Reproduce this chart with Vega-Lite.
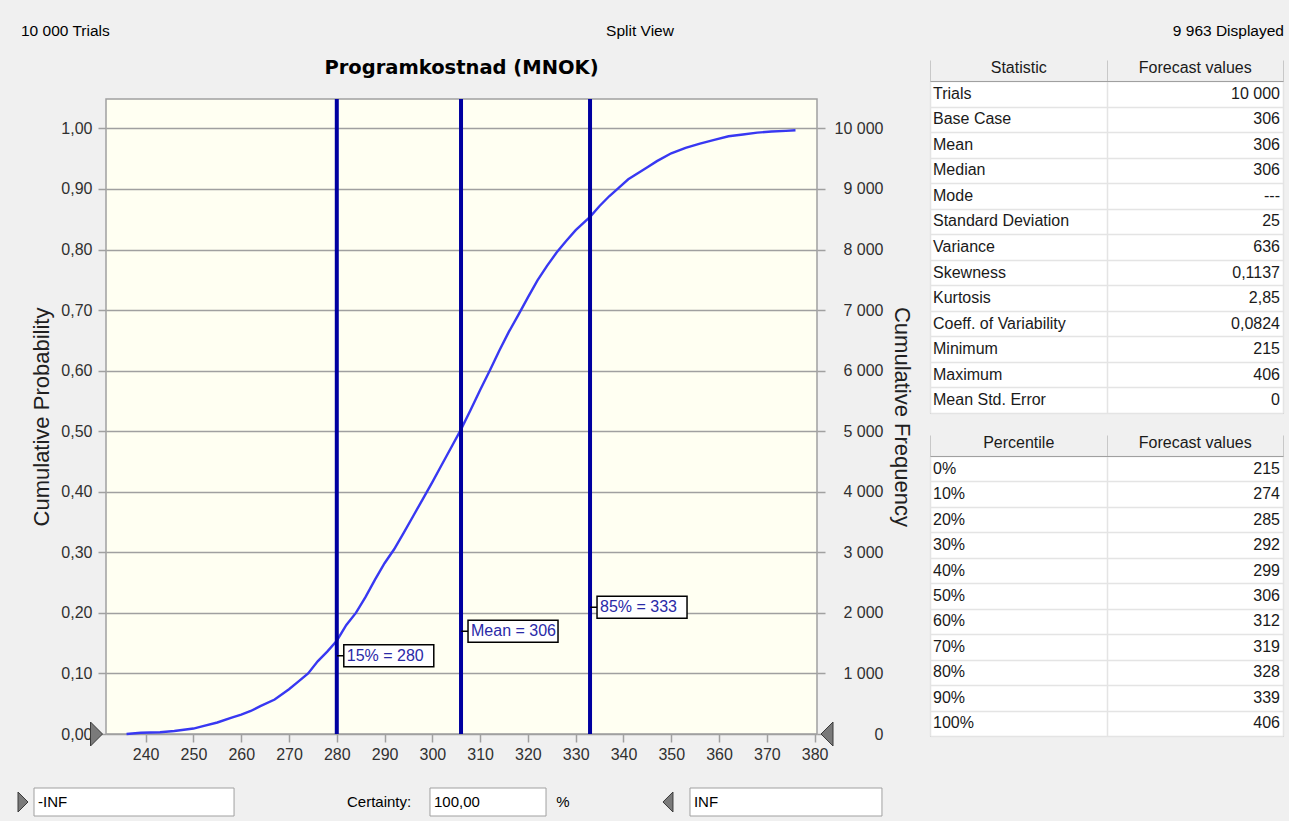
{
  "$schema": "https://vega.github.io/schema/vega-lite/v6.json",
  "background": "#f0f0f0",
  "padding": {"left": 16, "top": 20, "right": 5, "bottom": 5},
  "config": {
    "locale": {"number": {"decimal": ",", "thousands": " ", "grouping": [3], "currency": ["", ""]}},
    "font": "Liberation Sans",
    "view": {"stroke": null}
  },
  "spacing": 24,
  "vconcat": [
    {
      "spacing": 15,
      "vconcat": [
        {
          "width": 1176,
          "height": 22,
          "data": {"values": [
            {"part": "left", "label": "10 000 Trials"},
            {"part": "center", "label": "Split View"},
            {"part": "right", "label": "9 963 Displayed"}
          ]},
          "layer": [
            {
              "transform": [{"filter": "datum.part === 'left'"}],
              "mark": {"type": "text", "align": "left", "dx": -85, "fontSize": 15.5, "color": "#000000"},
              "encoding": {
                "x": {"field": "part", "type": "nominal", "bandPosition": 0, "scale": {"type": "band", "domain": ["left", "center", "right"], "paddingInner": 0, "paddingOuter": 0}, "axis": null},
                "text": {"field": "label"}
              }
            },
            {
              "transform": [{"filter": "datum.part === 'center'"}],
              "mark": {"type": "text", "align": "center", "dx": -54, "fontSize": 15.5, "color": "#000000"},
              "encoding": {
                "x": {"field": "part", "type": "nominal", "bandPosition": 0.5},
                "text": {"field": "label"}
              }
            },
            {
              "transform": [{"filter": "datum.part === 'right'"}],
              "mark": {"type": "text", "align": "right", "dx": 2, "fontSize": 15.5, "color": "#000000"},
              "encoding": {
                "x": {"field": "part", "type": "nominal", "bandPosition": 1},
                "text": {"field": "label"}
              }
            }
          ]
        },
        {
          "spacing": 16,
          "hconcat": [
            {
              "spacing": 0,
              "vconcat": [
                {
                  "width": 711,
                  "height": 15,
                  "title": {"text": "Programkostnad (MNOK)", "font": "DejaVu Sans", "fontSize": 19.5, "fontWeight": "bold", "color": "#000000", "offset": 3, "anchor": "middle"},
                  "data": {"values": [{"caption": ""}]},
                  "mark": {"type": "text"},
                  "encoding": {"text": {"field": "caption"}}
                },
                {
                  "width": 711,
                  "height": 635,
                  "view": {"fill": "#fffff2", "stroke": "#a0a0a0", "strokeWidth": 1.5},
                  "layer": [
                    {
                      "layer": [
                        {
                          "data": {"values": [
                            {"cost": 236, "prob": 0.0},
                            {"cost": 239, "prob": 0.002},
                            {"cost": 243, "prob": 0.003},
                            {"cost": 246, "prob": 0.005},
                            {"cost": 250, "prob": 0.009},
                            {"cost": 252, "prob": 0.013},
                            {"cost": 255, "prob": 0.019},
                            {"cost": 258, "prob": 0.027},
                            {"cost": 260, "prob": 0.032},
                            {"cost": 262, "prob": 0.038},
                            {"cost": 264, "prob": 0.046},
                            {"cost": 267, "prob": 0.057},
                            {"cost": 270, "prob": 0.074},
                            {"cost": 272, "prob": 0.087},
                            {"cost": 274, "prob": 0.1},
                            {"cost": 276, "prob": 0.12},
                            {"cost": 278, "prob": 0.136},
                            {"cost": 280, "prob": 0.154},
                            {"cost": 282, "prob": 0.18},
                            {"cost": 284, "prob": 0.2},
                            {"cost": 286, "prob": 0.226},
                            {"cost": 288, "prob": 0.255},
                            {"cost": 290, "prob": 0.282},
                            {"cost": 292, "prob": 0.305},
                            {"cost": 294, "prob": 0.332},
                            {"cost": 296, "prob": 0.36},
                            {"cost": 298, "prob": 0.388},
                            {"cost": 300, "prob": 0.416},
                            {"cost": 302, "prob": 0.445},
                            {"cost": 304, "prob": 0.474},
                            {"cost": 306, "prob": 0.503},
                            {"cost": 308, "prob": 0.535},
                            {"cost": 310, "prob": 0.568},
                            {"cost": 312, "prob": 0.6},
                            {"cost": 314, "prob": 0.633},
                            {"cost": 316, "prob": 0.664},
                            {"cost": 318, "prob": 0.692},
                            {"cost": 320, "prob": 0.721},
                            {"cost": 322, "prob": 0.749},
                            {"cost": 324, "prob": 0.773},
                            {"cost": 326, "prob": 0.795},
                            {"cost": 328, "prob": 0.814},
                            {"cost": 330, "prob": 0.832},
                            {"cost": 333, "prob": 0.854},
                            {"cost": 335, "prob": 0.872},
                            {"cost": 337, "prob": 0.888},
                            {"cost": 339, "prob": 0.902},
                            {"cost": 341, "prob": 0.916},
                            {"cost": 343, "prob": 0.926},
                            {"cost": 345, "prob": 0.936},
                            {"cost": 347, "prob": 0.946},
                            {"cost": 350, "prob": 0.959},
                            {"cost": 353, "prob": 0.968},
                            {"cost": 356, "prob": 0.975},
                            {"cost": 359, "prob": 0.981},
                            {"cost": 362, "prob": 0.987},
                            {"cost": 365, "prob": 0.99},
                            {"cost": 368, "prob": 0.993},
                            {"cost": 371, "prob": 0.995},
                            {"cost": 374, "prob": 0.996},
                            {"cost": 376, "prob": 0.997}
                          ]},
                          "mark": {"type": "line", "color": "#3838f2", "strokeWidth": 2.4},
                          "encoding": {
                            "x": {
                              "field": "cost", "type": "quantitative",
                              "scale": {"domain": [231.7, 380.5], "nice": false, "zero": false},
                              "axis": {"values": [240, 250, 260, 270, 280, 290, 300, 310, 320, 330, 340, 350, 360, 370, 380], "grid": false, "domain": false, "ticks": true, "tickSize": 8, "tickColor": "#a0a0a0", "tickWidth": 1.5, "labelFontSize": 16, "labelColor": "#303030", "labelPadding": 4, "labelFlush": false, "labelOverlap": false, "title": null}
                            },
                            "y": {
                              "field": "prob", "type": "quantitative",
                              "scale": {"domain": [0, 1.0486], "nice": false, "zero": false},
                              "axis": {"values": [0, 0.1, 0.2, 0.3, 0.4, 0.5, 0.6, 0.7, 0.8, 0.9, 1.0], "format": ".2f", "grid": true, "gridColor": "#a0a0a0", "gridWidth": 1.5, "domain": false, "tickSize": 8, "tickColor": "#a0a0a0", "tickWidth": 1.5, "labelFontSize": 16, "labelColor": "#303030", "labelPadding": 6, "labelFlush": false, "labelOverlap": false, "title": "Cumulative Probability", "titleFontSize": 22, "titleFontWeight": "normal", "titleColor": "#202020", "titlePadding": 7}
                            }
                          }
                        },
                        {
                          "data": {"values": [
                            {"cost": 280, "prob": 0.1293, "label": "15% = 280"},
                            {"cost": 306, "prob": 0.1698, "label": "Mean = 306"},
                            {"cost": 333, "prob": 0.2094, "label": "85% = 333"}
                          ]},
                          "layer": [
                            {
                              "mark": {"type": "rule", "color": "#0000a0", "strokeWidth": 4},
                              "encoding": {"x": {"field": "cost", "type": "quantitative"}}
                            },
                            {
                              "mark": {"type": "point", "shape": "M0,-0.2444L2,-0.2444L2,0.2444L0,0.2444ZM-0.15,0L0,0", "size": 8100, "filled": true, "fill": "#ffffff", "stroke": "#000000", "strokeWidth": 1.5, "opacity": 1, "xOffset": 7},
                              "encoding": {
                                "x": {"field": "cost", "type": "quantitative"},
                                "y": {"field": "prob", "type": "quantitative"}
                              }
                            },
                            {
                              "mark": {"type": "text", "align": "left", "baseline": "middle", "dx": 10, "fontSize": 16, "color": "#2a2aa8"},
                              "encoding": {
                                "x": {"field": "cost", "type": "quantitative"},
                                "y": {"field": "prob", "type": "quantitative"},
                                "text": {"field": "label"}
                              }
                            }
                          ]
                        },
                        {
                          "data": {"values": [{"side": "lower"}]},
                          "mark": {"type": "point", "shape": "M-0.5,-1L0.5,0L-0.5,1Z", "size": 576, "filled": true, "fill": "#7a7a7a", "stroke": "#3a3a3a", "strokeWidth": 1, "opacity": 1, "xOffset": -9.5},
                          "encoding": {
                            "x": {"datum": 231.7, "type": "quantitative"},
                            "y": {"datum": 0, "type": "quantitative"}
                          }
                        },
                        {
                          "data": {"values": [{"side": "upper"}]},
                          "mark": {"type": "point", "shape": "M0.5,-1L-0.5,0L0.5,1Z", "size": 576, "filled": true, "fill": "#7a7a7a", "stroke": "#3a3a3a", "strokeWidth": 1, "opacity": 1, "xOffset": 10},
                          "encoding": {
                            "x": {"datum": 380.5, "type": "quantitative"},
                            "y": {"datum": 0, "type": "quantitative"}
                          }
                        }
                      ]
                    },
                    {
                      "data": {"values": [{"side": "frequency"}]},
                      "mark": {"type": "rule", "opacity": 0},
                      "encoding": {
                        "y": {
                          "datum": 0, "type": "quantitative",
                          "scale": {"domain": [0, 10486], "nice": false, "zero": false},
                          "axis": {"orient": "right", "values": [0, 1000, 2000, 3000, 4000, 5000, 6000, 7000, 8000, 9000, 10000], "format": ",.0f", "grid": false, "domain": false, "tickSize": 8, "tickColor": "#a0a0a0", "tickWidth": 1.5, "labelFontSize": 16, "labelColor": "#303030", "labelAlign": "right", "labelPadding": 58, "labelFlush": false, "labelOverlap": false, "title": "Cumulative Frequency", "titleFontSize": 22, "titleFontWeight": "normal", "titleColor": "#202020", "titleAngle": 90, "titlePadding": 6}
                        }
                      }
                    }
                  ],
                  "resolve": {"scale": {"y": "independent"}}
                }
              ]
            },
            {
              "spacing": 19,
              "vconcat": [
                {
                  "width": 353,
                  "height": 332,
                  "view": {"fill": "#ffffff", "stroke": "#a0a0a0"},
                  "data": {"values": [
                    {"name": "Trials", "value": "10 000"},
                    {"name": "Base Case", "value": "306"},
                    {"name": "Mean", "value": "306"},
                    {"name": "Median", "value": "306"},
                    {"name": "Mode", "value": "---"},
                    {"name": "Standard Deviation", "value": "25"},
                    {"name": "Variance", "value": "636"},
                    {"name": "Skewness", "value": "0,1137"},
                    {"name": "Kurtosis", "value": "2,85"},
                    {"name": "Coeff. of Variability", "value": "0,0824"},
                    {"name": "Minimum", "value": "215"},
                    {"name": "Maximum", "value": "406"},
                    {"name": "Mean Std. Error", "value": "0"}
                  ]},
                  "encoding": {
                    "y": {"field": "name", "type": "nominal", "sort": null, "scale": {"type": "band", "paddingInner": 0, "paddingOuter": 0}, "axis": {"labels": false, "ticks": false, "domain": false, "grid": true, "tickBand": "extent", "gridColor": "#e4e4e4", "gridWidth": 1.5, "title": null}}
                  },
                  "layer": [
                    {
                      "mark": {"type": "text", "align": "left", "dx": 3, "fontSize": 16, "color": "#1a1a1a"},
                      "encoding": {
                        "x": {"datum": "Statistic", "type": "nominal", "bandPosition": 0, "scale": {"type": "band", "domain": ["Statistic", "Forecast values"], "paddingInner": 0, "paddingOuter": 0}, "axis": {"orient": "top", "title": null, "domain": true, "domainColor": "#a0a0a0", "ticks": true, "tickBand": "extent", "tickSize": 21, "tickColor": "#c8c8c8", "labelFontSize": 16, "labelColor": "#1a1a1a", "labelPadding": -15, "labelAngle": 0, "grid": true, "gridColor": "#e4e4e4", "gridWidth": 1.5}},
                        "text": {"field": "name"}
                      }
                    },
                    {
                      "mark": {"type": "text", "align": "right", "dx": -3, "fontSize": 16, "color": "#1a1a1a"},
                      "encoding": {
                        "x": {"datum": "Forecast values", "type": "nominal", "bandPosition": 1},
                        "text": {"field": "value"}
                      }
                    }
                  ]
                },
                {
                  "width": 353,
                  "height": 280,
                  "view": {"fill": "#ffffff", "stroke": "#a0a0a0"},
                  "data": {"values": [
                    {"name": "0%", "value": "215"},
                    {"name": "10%", "value": "274"},
                    {"name": "20%", "value": "285"},
                    {"name": "30%", "value": "292"},
                    {"name": "40%", "value": "299"},
                    {"name": "50%", "value": "306"},
                    {"name": "60%", "value": "312"},
                    {"name": "70%", "value": "319"},
                    {"name": "80%", "value": "328"},
                    {"name": "90%", "value": "339"},
                    {"name": "100%", "value": "406"}
                  ]},
                  "encoding": {
                    "y": {"field": "name", "type": "nominal", "sort": null, "scale": {"type": "band", "paddingInner": 0, "paddingOuter": 0}, "axis": {"labels": false, "ticks": false, "domain": false, "grid": true, "tickBand": "extent", "gridColor": "#e4e4e4", "gridWidth": 1.5, "title": null}}
                  },
                  "layer": [
                    {
                      "mark": {"type": "text", "align": "left", "dx": 3, "fontSize": 16, "color": "#1a1a1a"},
                      "encoding": {
                        "x": {"datum": "Percentile", "type": "nominal", "bandPosition": 0, "scale": {"type": "band", "domain": ["Percentile", "Forecast values"], "paddingInner": 0, "paddingOuter": 0}, "axis": {"orient": "top", "title": null, "domain": true, "domainColor": "#a0a0a0", "ticks": true, "tickBand": "extent", "tickSize": 21, "tickColor": "#c8c8c8", "labelFontSize": 16, "labelColor": "#1a1a1a", "labelPadding": -15, "labelAngle": 0, "grid": true, "gridColor": "#e4e4e4", "gridWidth": 1.5}},
                        "text": {"field": "name"}
                      }
                    },
                    {
                      "mark": {"type": "text", "align": "right", "dx": -3, "fontSize": 16, "color": "#1a1a1a"},
                      "encoding": {
                        "x": {"datum": "Forecast values", "type": "nominal", "bandPosition": 1},
                        "text": {"field": "value"}
                      }
                    }
                  ]
                }
              ]
            }
          ]
        }
      ]
    },
    {
      "width": 777,
      "height": 28,
      "layer": [
        {
          "data": {"values": [{"slot": "lower"}]},
          "mark": {"type": "rect", "fill": "#ffffff", "stroke": "#a0a0a0", "width": {"band": 0.993}, "xOffset": -72.7},
          "encoding": {"x": {"field": "slot", "type": "nominal", "scale": {"type": "band", "domain": ["lower", "certainty", "upper"], "paddingInner": 0.3, "paddingOuter": 0}, "axis": null}}
        },
        {
          "data": {"values": [{"slot": "certainty"}]},
          "mark": {"type": "rect", "fill": "#ffffff", "stroke": "#a0a0a0", "width": {"band": 0.576}, "xOffset": -6.5},
          "encoding": {"x": {"field": "slot", "type": "nominal"}}
        },
        {
          "data": {"values": [{"slot": "upper"}]},
          "mark": {"type": "rect", "fill": "#ffffff", "stroke": "#a0a0a0", "width": {"band": 0.953}, "xOffset": 3.7},
          "encoding": {"x": {"field": "slot", "type": "nominal"}}
        },
        {
          "data": {"values": [{"slot": "lower", "text": "-INF"}]},
          "mark": {"type": "text", "align": "left", "dx": -68, "fontSize": 15, "color": "#000000"},
          "encoding": {"x": {"field": "slot", "type": "nominal", "bandPosition": 0}, "text": {"field": "text"}}
        },
        {
          "data": {"values": [{"slot": "upper", "text": "INF"}]},
          "mark": {"type": "text", "align": "left", "dx": 12.4, "fontSize": 15, "color": "#000000"},
          "encoding": {"x": {"field": "slot", "type": "nominal", "bandPosition": 0}, "text": {"field": "text"}}
        },
        {
          "data": {"values": [{"slot": "certainty", "text": "Certainty:"}]},
          "mark": {"type": "text", "align": "left", "dx": -46.8, "fontSize": 15, "color": "#000000"},
          "encoding": {"x": {"field": "slot", "type": "nominal", "bandPosition": 0}, "text": {"field": "text"}}
        },
        {
          "data": {"values": [{"slot": "certainty", "text": "100,00"}]},
          "mark": {"type": "text", "align": "left", "dx": 40.2, "fontSize": 15, "color": "#000000"},
          "encoding": {"x": {"field": "slot", "type": "nominal", "bandPosition": 0}, "text": {"field": "text"}}
        },
        {
          "data": {"values": [{"slot": "certainty", "text": "%"}]},
          "mark": {"type": "text", "align": "center", "dx": 169.2, "fontSize": 15, "color": "#000000"},
          "encoding": {"x": {"field": "slot", "type": "nominal", "bandPosition": 0}, "text": {"field": "text"}}
        },
        {
          "data": {"values": [{"slot": "lower"}]},
          "mark": {"type": "point", "shape": "M-0.5,-1L0.5,0L-0.5,1Z", "size": 400, "filled": true, "fill": "#7a7a7a", "stroke": "#3a3a3a", "strokeWidth": 1, "opacity": 1, "xOffset": -83},
          "encoding": {"x": {"field": "slot", "type": "nominal", "bandPosition": 0}}
        },
        {
          "data": {"values": [{"slot": "upper"}]},
          "mark": {"type": "point", "shape": "M0.5,-1L-0.5,0L0.5,1Z", "size": 400, "filled": true, "fill": "#7a7a7a", "stroke": "#3a3a3a", "strokeWidth": 1, "opacity": 1, "xOffset": -13.6},
          "encoding": {"x": {"field": "slot", "type": "nominal", "bandPosition": 0}}
        }
      ]
    }
  ]
}
